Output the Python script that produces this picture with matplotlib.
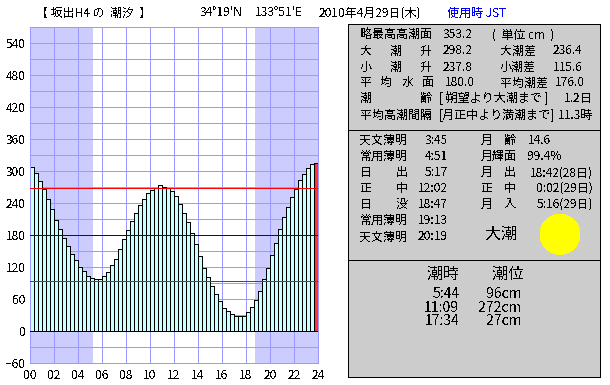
import matplotlib
matplotlib.use("Agg")
import matplotlib.pyplot as plt
from matplotlib.patches import Rectangle, Circle
import numpy as np

plt.rcParams['font.family'] = ['Noto Sans CJK JP', 'DejaVu Sans']
plt.rcParams['text.antialiased'] = False
plt.rcParams['lines.antialiased'] = False
plt.rcParams['patch.antialiased'] = False

W, H = 610, 385
PT = 0.72

tide = [306, 295, 280, 265, 246, 227, 208, 190, 173, 158, 143, 132,
        120, 111, 103, 98, 96, 96, 102, 109, 122, 135, 153, 171,
        188, 205, 221, 235, 246, 258, 263, 268, 272, 270, 268, 261,
        252, 238, 221, 203, 182, 162, 139, 118, 100, 83, 68, 55,
        43, 36, 31, 27, 27, 28, 34, 45, 58, 75, 96, 118,
        141, 165, 190, 212, 231, 250, 265, 282, 293, 304, 312, 315]
bar_hours = 1 / 3
sunrise, sunset = 5 + 17 / 60, 18 + 47 / 60
high_level, mean_level, low_level = 267, 180, 92
yticks_major = list(range(-60, 541, 60))
yticks_grid = list(range(-60, 571, 30))
xticks = list(range(0, 25, 2))
xlabels = [f"{h:02d}" for h in xticks]

fig = plt.figure(figsize=(W / 100, H / 100), dpi=100, facecolor='white')

# chart axes: x 30..318 px, y 26.5..362.5 px
ax = fig.add_axes([30 / W, 1 - 362.5 / H, 288 / W, 336 / H])
ax.set_xlim(0, 24)
ax.set_ylim(-60, 570)
grid_c = '#9999FF'
ax.axvspan(0, sunrise, color='#CCCCFF', lw=0, zorder=0)
ax.axvspan(sunset, 24, color='#CCCCFF', lw=0, zorder=0)
ax.set_xticks(xticks, xlabels, fontsize=8.6)
ax.set_yticks(yticks_major)
ax.set_yticks(yticks_grid, minor=True)
ax.tick_params(axis='both', which='both', length=0, labelsize=8.6)
ax.tick_params(axis='x', pad=5)
ax.tick_params(axis='y', pad=3)
ax.grid(True, which='both', color=grid_c, lw=PT, zorder=1)
ax.set_axisbelow(True)
for s in ax.spines.values():
    s.set_color(grid_c)
    s.set_linewidth(PT)

x = np.arange(len(tide)) * bar_hours
colors = ['#CCFFFF'] * (len(tide) - 1) + ['#FF3333']
ax.bar(x, tide, width=bar_hours, align='edge', color=colors,
       edgecolor='black', linewidth=PT, zorder=2, antialiased=False)
ax.axhline(0, color='black', lw=PT, zorder=3)
ax.axhline(high_level, color='#FF0000', lw=PT, zorder=4)
ax.axhline(mean_level, color='#0000CC', lw=PT, zorder=4)
ax.axhline(low_level, color='#FF0000', lw=PT, zorder=4)

# overlay in pixel coordinates for the text panels
ov = fig.add_axes([0, 0, 1, 1], facecolor='none')
ov.set_xlim(0, W)
ov.set_ylim(H, 0)
ov.axis('off')


def t(px, py, s, size=12, ha='left', color='black'):
    ov.text(px, py, s, fontsize=size * PT, ha=ha, va='center', color=color)


# header
t(36, 13, '【 坂出H4 の  潮汐  】')
t(200, 13, "34°19'N")
t(255, 13, "133°51'E")
t(319, 13, '2010年4月29日(木)')
t(447, 13, '使用時 JST', color='#0000FF')

# panels
panel_x0, panel_x1 = 347.5, 600
panel_edges = [(24, 130), (130, 260), (260, 377)]
for top, bot in panel_edges:
    ov.add_patch(Rectangle((panel_x0, top), panel_x1 - panel_x0, bot - top,
                           fc='#CCCCCC', ec='black', lw=PT))

# panel 1
p1_y = [34.7, 51, 67.3, 82.7, 98.7, 115]
t(360, p1_y[0], '略最高高潮面')
t(443, p1_y[0], '353.2')
t(492, p1_y[0], '(  単位 cm  )')
for y_, a, v1, lbl, v2 in [(p1_y[1], '大', '298.2', '大潮差', '236.4'),
                           (p1_y[2], '小', '237.8', '小潮差', '115.6')]:
    t(360, y_, a); t(390, y_, '潮'); t(420, y_, '升')
    t(443, y_, v1); t(500, y_, lbl); t(553, y_, v2)
for px, s in [(360, '平'), (380, '均'), (402, '水'), (422, '面'),
              (445, '180.0'), (500, '平均潮差'), (555, '176.0')]:
    t(px, p1_y[3], s)
t(360, p1_y[4], '潮'); t(420, p1_y[4], '齢')
t(439, p1_y[4], '[ 朔望より大潮まで ]')
t(593, p1_y[4], '1.2日', ha='right')
t(360, p1_y[5], '平均高潮間隔')
t(439, p1_y[5], '[月正中より満潮まで]')
t(593, p1_y[5], '11.3時', ha='right')

# panel 2
p2_y = [140.3, 156.7, 172.7, 188.3, 204.3, 220.7, 236.7]
left_labels = [('天文薄明', ''), ('常用薄明', ''), ('日', '出'), ('正', '中'),
               ('日', '没'), ('常用薄明', ''), ('天文薄明', '')]
left_times = ['3:45', '4:51', '5:17', '12:02', '18:47', '19:13', '20:19']
for y_, (a, b), v in zip(p2_y, left_labels, left_times):
    t(360, y_, a)
    if b:
        t(396, y_, b)
    t(448, y_, v, ha='right')
t(481, p2_y[0], '月'); t(504, p2_y[0], '齢'); t(528, p2_y[0], '14.6')
t(481, p2_y[1], '月輝面'); t(528, p2_y[1], '99.4%')
for y_, a, b, v in [(p2_y[2], '月', '出', '18:42(28日)'),
                    (p2_y[3], '正', '中', '0:02(29日)'),
                    (p2_y[4], '月', '入', '5:16(29日)')]:
    t(481, y_, a); t(504, y_, b); t(593, y_, v, ha='right')
t(485, 234, '大潮', size=16)
ov.add_patch(Circle((560, 234.3), 20, fc='#FFFF00', ec='none'))

# panel 3
tide_times = ['5:44', '11:09', '17:34']
tide_levels = ['96cm', '272cm', '27cm']
p3_y = [294, 308, 321]
t(443, 274, '潮時', size=16, ha='center')
t(508, 274, '潮位', size=16, ha='center')
for y_, a, b in zip(p3_y, tide_times, tide_levels):
    t(459, y_, a, size=14, ha='right')
    t(522, y_, b, size=14, ha='right')

fig.savefig('out.png', dpi=100, facecolor='white')
